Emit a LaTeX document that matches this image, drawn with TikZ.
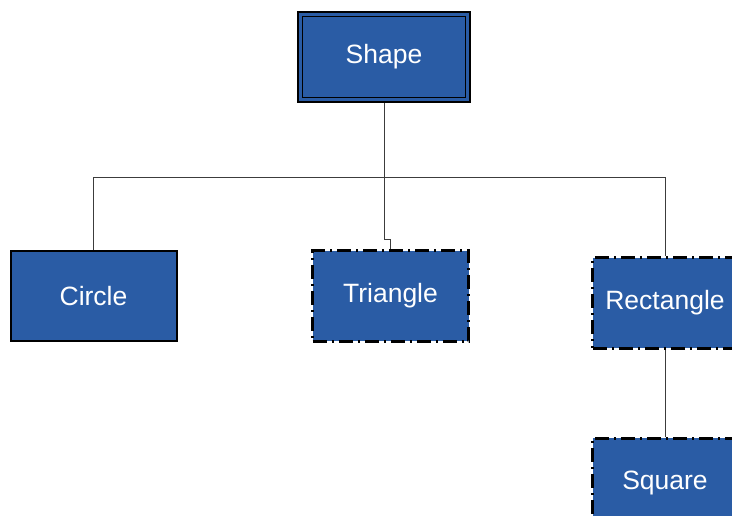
\documentclass[tikz,border=0pt]{standalone}
\usepackage{fontspec}
\setmainfont{Liberation Sans}
\definecolor{boxblue}{RGB}{42,92,165}
\definecolor{linegray}{RGB}{60,60,60}
\begin{document}
\begin{tikzpicture}[x=1pt,y=-1pt,
  box/.style={fill=boxblue, text=white, font=\fontsize{26.5}{30}\selectfont, inner sep=0pt, minimum height=90pt},
  solidbox/.style={box, draw=black, line width=2pt},
  dashbox/.style={box, draw=black, line width=3pt, dash pattern=on 14pt off 5pt on 2pt off 5pt},
  conn/.style={draw=linegray, line width=1pt}
]
\useasboundingbox (0,0) rectangle (732,516);
\node[box, draw=black, line width=2pt, minimum width=172pt, minimum height=90pt] (shape) at (384,57) {Shape};
\draw[black, line width=1.8pt] ([shift={(5.5pt,5.5pt)}]shape.south west) rectangle ([shift={(-5.5pt,-5.5pt)}]shape.north east);
\node[solidbox, minimum width=166pt] (circle) at (93.5,296) {Circle};
\node[dashbox, minimum width=156pt] (triangle) at (390.5,296) {Triangle};
\node[dashbox, minimum width=145pt] (rectangle) at (665,303) {Rectangle};
\node[dashbox, minimum width=145pt] (square) at (665,483) {Square};
\coordinate (bus) at (384,178);
\draw[conn] (shape.south) -- (bus);
\draw[conn] (bus) -| (circle.north);
\draw[conn] (bus) -| (rectangle.north);
\draw[conn] (bus) -- ++(0,62) -| (triangle.north);
\draw[conn] (rectangle.south) -- (square.north);
\end{tikzpicture}
\end{document}
